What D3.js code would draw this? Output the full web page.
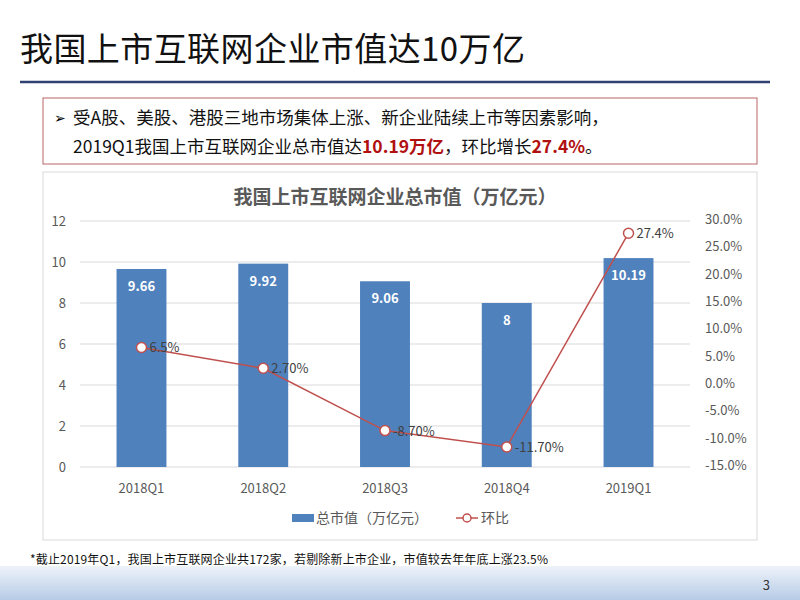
<!DOCTYPE html><html><head><meta charset="utf-8"><script src="https://cdn.jsdelivr.net/npm/d3@7"></script>
<style>body{margin:0;background:#fff}text{font-family:"Noto Sans CJK SC","Microsoft YaHei",sans-serif}</style></head><body>
<svg id="c" width="800" height="600"></svg>
<script>
const categories=["2018Q1","2018Q2","2018Q3","2018Q4","2019Q1"];
const marketValue=[9.66,9.92,9.06,8,10.19];
const growth=[6.5,2.7,-8.7,-11.7,27.4];
const growthLabels=["6.5%","2.70%","-8.70%","-11.70%","27.4%"];
const leftTicks=[0,2,4,6,8,10,12];
const rightTicks=[-15,-10,-5,0,5,10,15,20,25,30];
const svg=d3.select("#c");
const defs=svg.append("defs");
const g=defs.append("linearGradient").attr("id","ft").attr("x1",0).attr("y1",0).attr("x2",0).attr("y2",1);
g.append("stop").attr("offset","0").attr("stop-color","#eef3fa");
g.append("stop").attr("offset","1").attr("stop-color","#b7cbe6");
svg.append("rect").attr("x",0).attr("y",566).attr("width",800).attr("height",34).attr("fill","url(#ft)");
svg.append("text").attr("x",770).attr("y",590).attr("text-anchor","end").attr("font-size",13).attr("fill","#333").text("3");
svg.append("text").attr("x",20).attr("y",61).attr("font-size",33).attr("fill","#111").attr("textLength",505).text("我国上市互联网企业市值达10万亿");
svg.append("line").attr("x1",20).attr("x2",770).attr("y1",82).attr("y2",82).attr("stroke","#2e4170").attr("stroke-width",2.5);
svg.append("rect").attr("x",43).attr("y",98).attr("width",714).attr("height",66).attr("fill","none").attr("stroke","#b86464").attr("stroke-width",1);
svg.append("text").attr("x",54).attr("y",123).attr("font-size",14).text("➢");
svg.append("text").attr("x",73).attr("y",124).attr("font-size",17.5).attr("fill","#111").text("受A股、美股、港股三地市场集体上涨、新企业陆续上市等因素影响，");
const t2=svg.append("text").attr("x",73).attr("y",153).attr("font-size",17.5).attr("fill","#111");
t2.append("tspan").text("2019Q1我国上市互联网企业总市值达");
t2.append("tspan").attr("fill","#b01010").attr("font-weight","bold").text("10.19万亿");
t2.append("tspan").text("，环比增长");
t2.append("tspan").attr("fill","#b01010").attr("font-weight","bold").text("27.4%");
t2.append("tspan").text("。");
svg.append("rect").attr("x",43).attr("y",172).attr("width",714).attr("height",368).attr("fill","#fff").attr("stroke","#d9d9d9");
svg.append("text").attr("x",395).attr("y",204).attr("text-anchor","middle").attr("font-size",19).attr("font-weight","bold").attr("fill","#595959").text("我国上市互联网企业总市值（万亿元）");
const x=d3.scaleBand().domain(categories).range([80,690]).paddingInner(0.59).paddingOuter(0.3);
const yL=d3.scaleLinear().domain([0,12]).range([467,221]);
const yR=d3.scaleLinear().domain([-15,30]).range([465,219]);
leftTicks.forEach(t=>{svg.append("line").attr("x1",80).attr("x2",690).attr("y1",yL(t)).attr("y2",yL(t)).attr("stroke","#d9d9d9");});
svg.append("g").selectAll("text").data(leftTicks).join("text").attr("x",66).attr("y",d=>yL(d)+5).attr("text-anchor","end").attr("font-size",13).attr("fill","#595959").text(d=>d);
svg.append("g").selectAll("text").data(rightTicks).join("text").attr("x",705).attr("y",d=>yR(d)+5).attr("font-size",13).attr("fill","#595959").text(d=>d.toFixed(1)+"%");
svg.append("g").selectAll("text").data(categories).join("text").attr("x",d=>x(d)+x.bandwidth()/2).attr("y",493).attr("text-anchor","middle").attr("font-size",13).attr("fill","#595959").text(d=>d);
svg.append("g").selectAll("rect").data(marketValue).join("rect").attr("x",(d,i)=>x(categories[i])).attr("width",x.bandwidth()).attr("y",d=>yL(d)).attr("height",d=>yL(0)-yL(d)).attr("fill","#4f81bd");
svg.append("g").selectAll("text").data(marketValue).join("text").attr("x",(d,i)=>x(categories[i])+x.bandwidth()/2).attr("y",d=>yL(d)+22).attr("text-anchor","middle").attr("font-size",13).attr("font-weight","bold").attr("fill","#fff").text(d=>d);
const cx=i=>x(categories[i])+x.bandwidth()/2;
svg.append("path").datum(growth).attr("d",d3.line().x((d,i)=>cx(i)).y(d=>yR(d))).attr("fill","none").attr("stroke","#c0504d").attr("stroke-width",1.5);
svg.append("g").selectAll("circle").data(growth).join("circle").attr("cx",(d,i)=>cx(i)).attr("cy",d=>yR(d)).attr("r",5).attr("fill","#fff").attr("stroke","#c0504d").attr("stroke-width",1.5);
svg.append("g").selectAll("text").data(growth).join("text").attr("x",(d,i)=>cx(i)+8).attr("y",d=>yR(d)+5).attr("font-size",13).attr("fill","#404040").text((d,i)=>growthLabels[i]);
svg.append("rect").attr("x",292).attr("y",514).attr("width",22).attr("height",8).attr("fill","#4f81bd");
svg.append("text").attr("x",316).attr("y",523).attr("font-size",14).attr("fill","#595959").text("总市值（万亿元）");
svg.append("line").attr("x1",456).attr("x2",478).attr("y1",518).attr("y2",518).attr("stroke","#c0504d").attr("stroke-width",1.5);
svg.append("circle").attr("cx",467).attr("cy",518).attr("r",4).attr("fill","#fff").attr("stroke","#c0504d").attr("stroke-width",1.5);
svg.append("text").attr("x",481).attr("y",523).attr("font-size",14).attr("fill","#595959").text("环比");
svg.append("text").attr("x",30).attr("y",564).attr("font-size",12).attr("fill","#111").attr("textLength",518).text("*截止2019年Q1，我国上市互联网企业共172家，若剔除新上市企业，市值较去年年底上涨23.5%");
</script></body></html>
